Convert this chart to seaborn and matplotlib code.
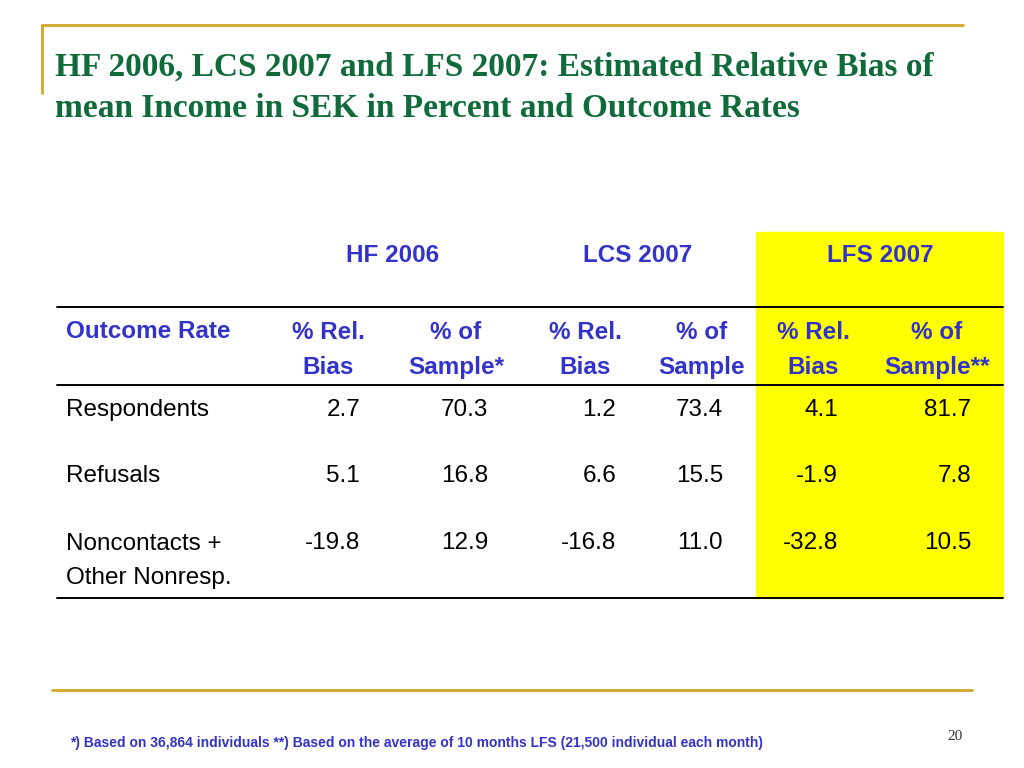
import matplotlib
matplotlib.use("Agg")
import matplotlib.pyplot as plt
import seaborn as sns

# ── Data ───────────────────────────────────────────────
surveys = ["HF 2006", "LCS 2007", "LFS 2007"]
col_headers = ["% Rel.\nBias", "% of\nSample*", "% Rel.\nBias", "% of\nSample",
               "% Rel.\nBias", "% of\nSample**"]
row_labels = ["Respondents", "Refusals", "Noncontacts +\nOther Nonresp."]
rel_bias_hf = [2.7, 5.1, -19.8]
sample_hf = [70.3, 16.8, 12.9]
rel_bias_lcs = [1.2, 6.6, -16.8]
sample_lcs = [73.4, 15.5, 11.0]
rel_bias_lfs = [4.1, -1.9, -32.8]
sample_lfs = [81.7, 7.8, 10.5]
columns = [rel_bias_hf, sample_hf, rel_bias_lcs, sample_lcs, rel_bias_lfs, sample_lfs]

title = ("HF 2006, LCS 2007 and LFS 2007: Estimated Relative Bias of\n"
         "mean Income in SEK in Percent and Outcome Rates")
footnote = ("*) Based on 36,864 individuals **) Based on the average of 10 months LFS "
            "(21,500 individual each month)")
page_no = "20"

# ── Style ──────────────────────────────────────────────
sns.set_theme(style="white")
SANS = ["Liberation Sans Narrow", "Liberation Sans", "DejaVu Sans"]
SERIF = ["Liberation Serif", "DejaVu Serif"]
GREEN = "#0f6b3a"
BLUE = "#3333cc"
GOLD = "#d4a72c"
YELLOW = "#ffff00"
FS = 17.5

fig = plt.figure(figsize=(10.24, 7.68), dpi=100)
ax = fig.add_axes([0, 0, 1, 1])
ax.set_xlim(0, 1024)
ax.set_ylim(768, 0)
ax.axis("off")

# slide frame
ax.plot([42, 963], [25, 25], color=GOLD, lw=2)
ax.plot([42, 42], [25, 93], color=GOLD, lw=2)
ax.plot([52, 972], [690, 690], color=GOLD, lw=2)

ax.text(55, 88, title, color=GREEN, fontsize=24, fontweight="bold",
        family=SERIF, va="center", ha="left", linespacing=1.4)

# highlighted LFS block
ax.add_patch(plt.Rectangle((756, 232), 247, 366, color=YELLOW, zorder=0))

# rules
for y in [307, 385, 598]:
    ax.plot([57, 1003], [y, y], color="black", lw=1.4)

group_x = [393, 638, 880]
for name, x in zip(surveys, group_x):
    ax.text(x, 256, name, color=BLUE, fontsize=FS, fontweight="bold",
            family=SANS, ha="center", va="center")

ax.text(66, 331, "Outcome Rate", color=BLUE, fontsize=FS, fontweight="bold",
        family=SANS, ha="left", va="center")
head_x = [328, 456, 585, 702, 813, 937]
for h, x in zip(col_headers, head_x):
    ax.text(x, 350, h, color=BLUE, fontsize=FS, fontweight="bold",
            family=SANS, ha="center", va="center", linespacing=1.7)

row_y = [410, 476, 543]
for lab, y in zip(row_labels, row_y):
    if "\n" in lab:
        ax.text(66, y + 18, lab, color="black", fontsize=FS, family=SANS,
                ha="left", va="center", linespacing=1.7)
    else:
        ax.text(66, y, lab, color="black", fontsize=FS, family=SANS,
                ha="left", va="center")

right_x = [360, 488, 616, 723, 838, 971]
for vals, x in zip(columns, right_x):
    for v, y in zip(vals, row_y):
        ax.text(x, y, f"{v:.1f}", color="black", fontsize=FS, family=SANS,
                ha="right", va="center")

ax.text(70, 743, footnote, color=BLUE, fontsize=10, fontweight="bold",
        family=SANS, ha="left", va="center")
ax.text(955, 736, page_no, color="#333333", fontsize=11, family=SERIF,
        ha="center", va="center")

plt.savefig("out.png", dpi=100, facecolor="white")
plt.close()
